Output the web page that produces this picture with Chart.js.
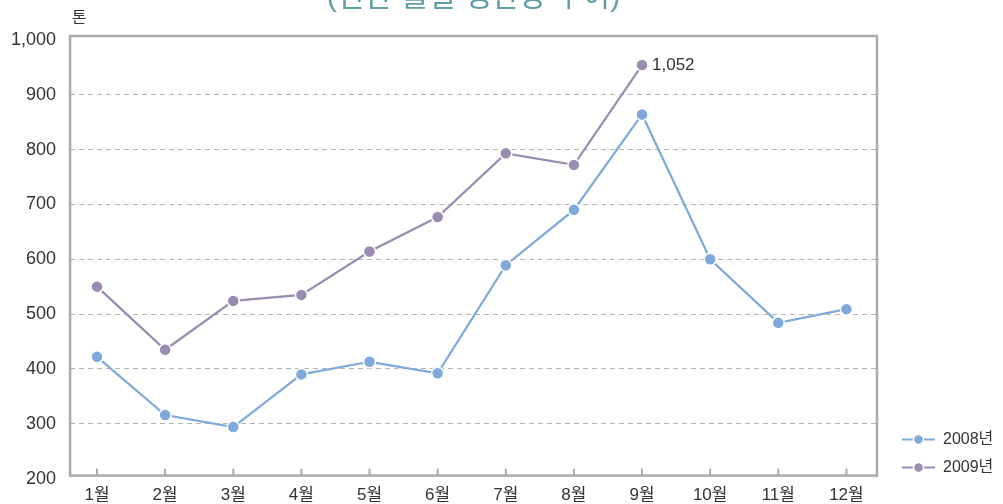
<!DOCTYPE html>
<html>
<head>
<meta charset="utf-8">
<script src="https://cdn.jsdelivr.net/npm/chart.js@4/dist/chart.umd.min.js"></script>
<style>
html,body{margin:0;padding:0;background:#fff;}
canvas{display:block;}
</style>
</head>
<body>
<canvas id="c" width="1003" height="504"></canvas>
<script>
const months = ['1월','2월','3월','4월','5월','6월','7월','8월','9월','10월','11월','12월'];
const seriesNames = ['2008년','2009년'];
const values2008 = [422,316,294,390,413,392,589,690,864,600,484,509];
const values2009 = [550,435,524,535,614,677,793,772,954];
const labels2009 = [null,null,null,null,null,null,null,null,'1,052'];
const yTicks = [200,300,400,500,600,700,800,900,1000];
const unitLabel = '톤';
const titleText = '(연간 월별 생산량 추이)';

const FONT = '"Liberation Sans", "Noto Sans CJK KR", sans-serif';
Chart.defaults.font.family = FONT;
Chart.defaults.color = '#333';

const BLUE = '#7ea9da';
const PURPLE = '#9a8bb0';
const FRAME = '#ababab';

function toXY(arr){ return arr.map((v,i)=>({x:i+1,y:v})); }

const extras = {
  id:'extras',
  beforeDatasetsDraw(chart){
    const {ctx, chartArea:a, scales:{x}} = chart;
    ctx.save();
    ctx.strokeStyle = FRAME;
    ctx.lineWidth = 2.5;
    ctx.strokeRect(a.left, a.top, a.right-a.left, a.bottom-a.top);
    ctx.lineWidth = 2;
    x.ticks.forEach((t,i)=>{
      const px = x.getPixelForTick(i);
      ctx.beginPath();
      ctx.moveTo(px, a.bottom-7);
      ctx.lineTo(px, a.bottom);
      ctx.stroke();
    });
    ctx.restore();
  },
  afterDatasetsDraw(chart){
    const {ctx, chartArea:a} = chart;
    ctx.save();
    ctx.font = '17px ' + FONT;
    ctx.fillStyle = '#333';
    ctx.textBaseline = 'middle';
    ctx.textAlign = 'left';
    const meta = chart.getDatasetMeta(1);
    labels2009.forEach((t,i)=>{
      if(!t) return;
      const el = meta.data[i];
      ctx.fillText(t, el.x+10, el.y);
    });
    ctx.font = '16px ' + FONT;
    ctx.textAlign = 'center';
    ctx.fillText(unitLabel, a.left+9, a.top-17);
    ctx.font = '30px ' + FONT;
    ctx.fillStyle = '#5f9ea4';
    ctx.textBaseline = 'alphabetic';
    ctx.fillText(titleText, (a.left+a.right)/2, 6);
    chart.data.datasets.forEach((ds,i)=>{
      const y = a.bottom - 36 + i*28;
      const x0 = a.right + 25;
      ctx.strokeStyle = ds.borderColor;
      ctx.lineWidth = 2;
      ctx.beginPath(); ctx.moveTo(x0,y); ctx.lineTo(x0+33,y); ctx.stroke();
      ctx.beginPath(); ctx.arc(x0+16.5,y,5,0,Math.PI*2);
      ctx.fillStyle = ds.pointBackgroundColor; ctx.fill();
      ctx.strokeStyle = '#fff'; ctx.lineWidth = 1.5; ctx.stroke();
      ctx.fillStyle = '#333';
      ctx.font = '16px ' + FONT;
      ctx.textAlign = 'left';
      ctx.textBaseline = 'middle';
      ctx.fillText(ds.label, x0+41, y);
    });
    ctx.restore();
  }
};

new Chart(document.getElementById('c'), {
  type:'line',
  data:{
    datasets:[
      {label:seriesNames[0], data:toXY(values2008), borderColor:BLUE, backgroundColor:BLUE,
       pointBackgroundColor:BLUE, pointBorderColor:'#fff', pointBorderWidth:1.5, pointRadius:6,
       borderWidth:2.2, tension:0},
      {label:seriesNames[1], data:toXY(values2009), borderColor:PURPLE, backgroundColor:PURPLE,
       pointBackgroundColor:PURPLE, pointBorderColor:'#fff', pointBorderWidth:1.5, pointRadius:6,
       borderWidth:2.2, tension:0}
    ]
  },
  options:{
    responsive:false,
    animation:false,
    layout:{padding:{left:-3, top:36, right:126, bottom:-12}},
    plugins:{legend:{display:false}, tooltip:{enabled:false}},
    scales:{
      x:{
        type:'linear', min:0.604, max:12.449,
        afterBuildTicks:s=>{ s.ticks = months.map((m,i)=>({value:i+1})); },
        ticks:{callback:(v,i)=>months[i], font:{size:17}, color:'#333', padding:10, maxRotation:0, autoSkip:false},
        grid:{display:false, drawTicks:false},
        border:{display:false}
      },
      y:{
        type:'linear', min:205.5, max:1007,
        afterBuildTicks:s=>{ s.ticks = yTicks.map(v=>({value:v})); },
        ticks:{callback:v=>v.toLocaleString('en-US'), font:{size:18}, color:'#333', padding:14},
        grid:{drawTicks:false, lineWidth:1,
          color:c=>(c.tick && (c.tick.value===200 || c.tick.value===1000)) ? 'rgba(0,0,0,0)' : '#b5b5b5'},
        border:{display:false, dash:[5,4]}
      }
    }
  },
  plugins:[extras]
});
</script>
</body>
</html>
